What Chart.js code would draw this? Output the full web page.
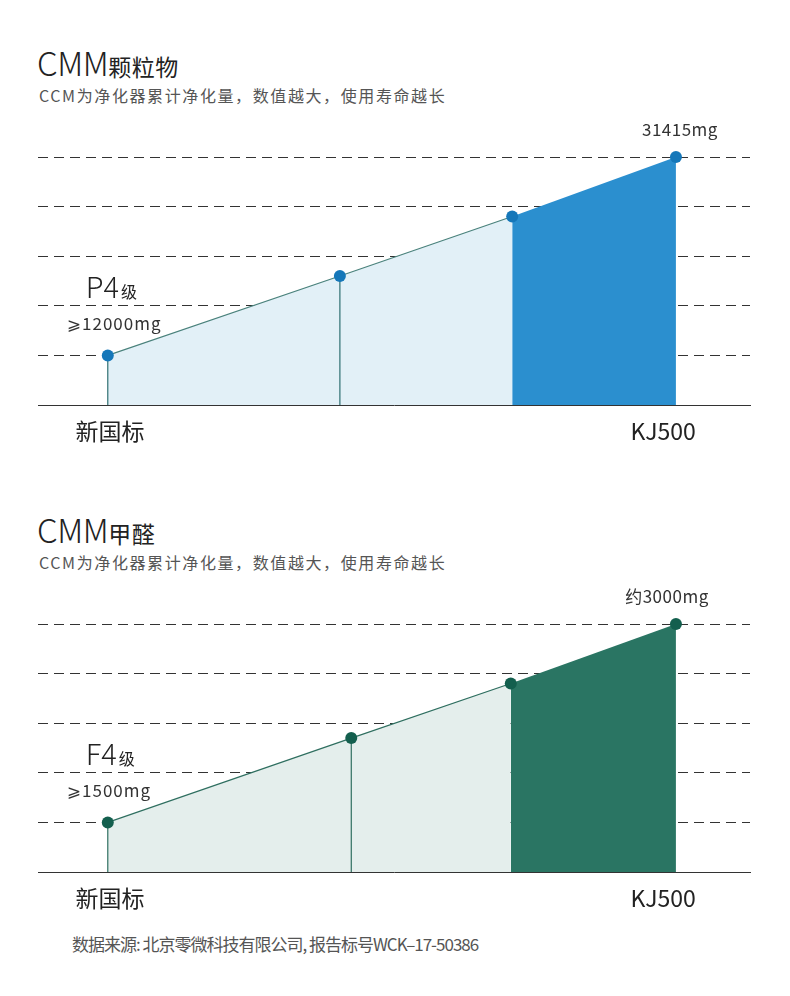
<!DOCTYPE html>
<html>
<head>
<meta charset="utf-8">
<script src="https://cdn.jsdelivr.net/npm/chart.js@4.4.1/dist/chart.umd.min.js"></script>
<style>
  html, body { margin: 0; padding: 0; background: #ffffff; }
  body { width: 790px; height: 996px; position: relative; overflow: hidden;
         font-family: "Noto Sans CJK SC", "Noto Sans", sans-serif; }
  .title { position: absolute; left: 37px; line-height: 31px; white-space: nowrap; color: #222; }
  .title .big { font-size: 33px; font-weight: 300; letter-spacing: -0.5px; }
  .title .small { font-size: 23px; font-weight: 400; letter-spacing: 0.5px; }
  .sub { position: absolute; left: 39px; font-size: 16px; line-height: 16px; color: #555;
         letter-spacing: 1.6px; white-space: nowrap; }
  .foot { position: absolute; left: 72px; top: 935px; font-size: 17px; line-height: 17px;
          color: #555; letter-spacing: -1px; white-space: nowrap; }
  canvas { position: absolute; left: 0; }
</style>
</head>
<body>
<div class="title" style="top:47px"><span class="big">CMM</span><span class="small">颗粒物</span></div>
<div class="sub" style="top:87px">CCM为净化器累计净化量，数值越大，使用寿命越长</div>
<canvas id="c1" width="790" height="340" style="top:120px"></canvas>

<div class="title" style="top:514px"><span class="big">CMM</span><span class="small">甲醛</span></div>
<div class="sub" style="top:554px">CCM为净化器累计净化量，数值越大，使用寿命越长</div>
<canvas id="c2" width="790" height="340" style="top:587px"></canvas>

<div class="foot">数据来源: 北京零微科技有限公司, 报告标号WCK–17-50386</div>

<script>
// ---- data ----
const xTickLabels = ['新国标', 'KJ500'];
const xTickValues = [10.1, 87.8];

const pmX = [9.8, 42.4, 66.6, 89.6];
const pmY = [1, 2.6, 3.8, 5];
const pmGrade = ['P4', '级'];
const pmStartLabel = '⩾12000mg';
const pmEndLabel = '31415mg';

const hchoX = [9.8, 44.0, 66.4, 89.6];
const hchoY = [1, 2.7, 3.8, 5];
const hchoGrade = ['F4', '级'];
const hchoStartLabel = '⩾1500mg';
const hchoEndLabel = '约3000mg';

const FONT = '"Noto Sans CJK SC", "DejaVu Sans", sans-serif';

function buildChart(id, xs, ys, grade, startLabel, endLabel, colors, endDx) {
  const pts = xs.map((x, i) => ({ x: x, y: ys[i] }));
  const datasets = [
    // light area: first three points
    {
      data: pts.slice(0, 3),
      borderColor: colors.line, borderWidth: 1.2,
      backgroundColor: colors.light, fill: 'origin',
      pointRadius: 6, pointHoverRadius: 6, pointBackgroundColor: colors.point, pointBorderWidth: 0,
      tension: 0, clip: false
    },
    // dark area: last two points
    {
      data: pts.slice(2),
      borderColor: colors.dark, borderWidth: 0,
      backgroundColor: colors.dark, fill: 'origin',
      pointRadius: [0, 6], pointHoverRadius: [0, 6], pointBackgroundColor: colors.point, pointBorderWidth: 0,
      tension: 0, clip: false
    }
  ];
  // drop lines under the first two points
  for (let i = 0; i < 2; i++) {
    datasets.push({
      data: [{ x: xs[i], y: 0 }, { x: xs[i], y: ys[i] }],
      borderColor: colors.drop, borderWidth: 1.2, pointRadius: 0, fill: false, clip: false
    });
  }

  const annot = {
    id: 'annot',
    afterDraw(chart) {
      const ctx = chart.ctx;
      const xs_ = chart.scales.x, ys_ = chart.scales.y;
      const p0x = xs_.getPixelForValue(xs[0]), p0y = ys_.getPixelForValue(ys[0]);
      const p3x = xs_.getPixelForValue(xs[3]), p3y = ys_.getPixelForValue(ys[3]);
      ctx.save();
      ctx.fillStyle = '#222';
      ctx.textBaseline = 'alphabetic';
      ctx.textAlign = 'left';
      ctx.font = '300 29px ' + FONT;
      const gx = p0x - 22, gy = p0y - 57;
      ctx.fillText(grade[0], gx, gy);
      const w = ctx.measureText(grade[0]).width;
      ctx.font = '400 16px ' + FONT;
      ctx.fillText(grade[1], gx + w + 2, gy);
      ctx.fillStyle = '#333';
      ctx.font = '400 17px ' + FONT;
      ctx.letterSpacing = '1px';
      ctx.textBaseline = 'middle';
      ctx.fillText(startLabel, p0x - 41, p0y - 32);
      ctx.textAlign = 'center';
      ctx.letterSpacing = '0.5px';
      ctx.fillText(endLabel, p3x + endDx, p3y - 27);
      ctx.restore();
    }
  };

  return new Chart(document.getElementById(id), {
    type: 'line',
    data: { datasets: datasets },
    options: {
      responsive: false,
      animation: false,
      events: [],
      layout: { autoPadding: false, padding: { top: 37, left: 38, right: 40, bottom: 0 } },
      plugins: {
        legend: { display: false }, tooltip: { enabled: false },
        filler: { drawTime: 'beforeDatasetsDraw' }
      },
      scales: {
        x: {
          type: 'linear', min: 0, max: 100, z: 1,
          afterFit(s) { s.height = 55; },
          afterBuildTicks(s) { s.ticks = xTickValues.map(v => ({ value: v })); },
          grid: { display: false, drawTicks: false },
          border: { display: true, color: '#333', width: 1 },
          ticks: {
            padding: 12, color: '#222', autoSkip: false, maxRotation: 0,
            font: { family: FONT, size: 23 },
            callback(v, i) { return xTickLabels[i]; }
          }
        },
        y: {
          type: 'linear', min: 0, max: 5, z: 1,
          afterFit(s) { s.width = 0; },
          ticks: { display: false, stepSize: 1 },
          grid: {
            drawTicks: false, lineWidth: 1,
            color(c) { return c.tick.value === 0 ? 'rgba(0,0,0,0)' : '#333'; }
          },
          border: { display: false, dash: [10, 6] }
        }
      }
    },
    plugins: [annot]
  });
}

buildChart('c1', pmX, pmY, pmGrade, pmStartLabel, pmEndLabel, {
  line: '#4a827c', drop: '#2f6f72', light: '#e2f0f7', dark: '#2b8fcf', point: '#1577b9'
}, 4);
buildChart('c2', hchoX, hchoY, hchoGrade, hchoStartLabel, hchoEndLabel, {
  line: '#2f6f60', drop: '#2f6f60', light: '#e4eeec', dark: '#2a7563', point: '#135f4e'
}, -9);
</script>
</body>
</html>
